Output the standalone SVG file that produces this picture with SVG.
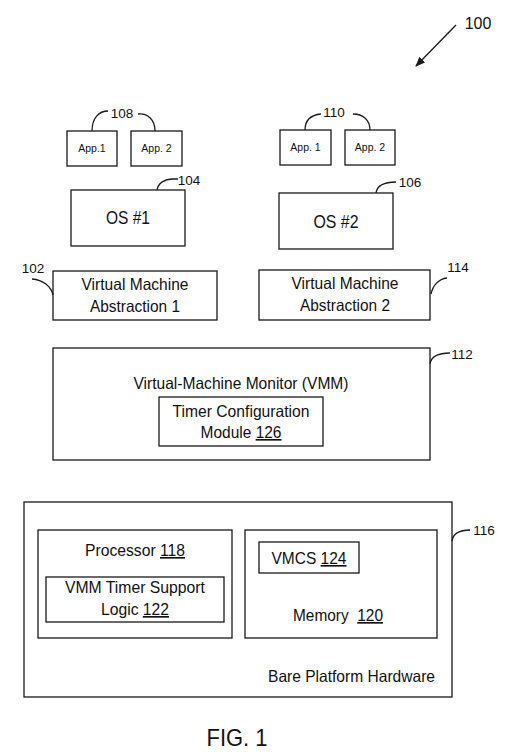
<svg xmlns="http://www.w3.org/2000/svg" width="506" height="755" viewBox="0 0 506 755">
<style>
.box{fill:none;stroke:#1a1a1a;stroke-width:1.3}
.lead{fill:none;stroke:#1a1a1a;stroke-width:1.3}
text{font-family:"Liberation Sans",Arial,sans-serif;fill:#111}
.t{font-size:16.5px;text-anchor:middle}
.app{font-size:10.5px;text-anchor:middle}
.os{font-size:18px;text-anchor:middle}
.ref{font-size:13.5px;text-anchor:middle}
.u{text-decoration:underline}
</style>
<defs>
<marker id="ah" viewBox="0 0 10 10" refX="9" refY="5" markerWidth="10" markerHeight="10" markerUnits="userSpaceOnUse" orient="auto">
<path d="M0,1 L10,5 L0,9 Z" fill="#1a1a1a"/>
</marker>
</defs>
<rect width="506" height="755" fill="#fff"/>

<g id="label-100"><text class="ref" x="478" y="29" style="font-size:16px">100</text></g>

<g id="app1-left"><rect class="box" x="67" y="131" width="50" height="35"/><text class="app" x="92" y="152">App.1</text></g>
<g id="app2-left"><rect class="box" x="131" y="131" width="51" height="35"/><text class="app" x="156.5" y="152">App. 2</text></g>
<g id="label-108"><text class="ref" x="122" y="118">108</text></g>

<g id="app1-right"><rect class="box" x="280" y="130" width="51" height="35"/><text class="app" x="305.5" y="151">App. 1</text></g>
<g id="app2-right"><rect class="box" x="345" y="130" width="50" height="35"/><text class="app" x="370" y="151">App. 2</text></g>
<g id="label-110"><text class="ref" x="334" y="117">110</text></g>

<g id="os1"><rect class="box" x="71" y="190" width="114" height="56"/><text class="os" x="128" y="223.5" textLength="44" lengthAdjust="spacingAndGlyphs">OS #1</text></g>
<g id="label-104"><text class="ref" x="189" y="185">104</text></g>
<g id="os2"><rect class="box" x="279" y="193" width="114" height="56"/><text class="os" x="336" y="228" textLength="45" lengthAdjust="spacingAndGlyphs">OS #2</text></g>
<g id="label-106"><text class="ref" x="410" y="187">106</text></g>

<g id="vma1"><rect class="box" x="53" y="271" width="164" height="49"/><text class="t" x="135" y="290" textLength="107" lengthAdjust="spacingAndGlyphs">Virtual Machine</text><text class="t" x="135" y="312" textLength="90" lengthAdjust="spacingAndGlyphs">Abstraction 1</text></g>
<g id="label-102"><text class="ref" x="33" y="273">102</text></g>
<g id="vma2"><rect class="box" x="259" y="270" width="171" height="50"/><text class="t" x="345" y="289" textLength="107" lengthAdjust="spacingAndGlyphs">Virtual Machine</text><text class="t" x="345" y="311" textLength="90" lengthAdjust="spacingAndGlyphs">Abstraction 2</text></g>
<g id="label-114"><text class="ref" x="458" y="272">114</text></g>

<g id="vmm"><rect class="box" x="53" y="348" width="377" height="112"/><text class="t" x="241" y="389" textLength="215" lengthAdjust="spacingAndGlyphs">Virtual-Machine Monitor (VMM)</text></g>
<g id="timer-config"><rect class="box" x="159" y="397" width="164" height="49"/><text class="t" x="241" y="416.5" textLength="137" lengthAdjust="spacingAndGlyphs">Timer Configuration</text><text class="t" x="241" y="438" textLength="81" lengthAdjust="spacingAndGlyphs">Module <tspan class="u">126</tspan></text></g>
<g id="label-112"><text class="ref" x="462" y="359">112</text></g>

<g id="hardware"><rect class="box" x="24" y="502" width="428" height="195"/><text class="t" x="351.5" y="682" textLength="167" lengthAdjust="spacingAndGlyphs">Bare Platform Hardware</text></g>
<g id="label-116"><text class="ref" x="484" y="535">116</text></g>
<g id="processor"><rect class="box" x="38" y="530" width="194" height="108"/><text class="t" x="135" y="556" textLength="100" lengthAdjust="spacingAndGlyphs">Processor <tspan class="u">118</tspan></text></g>
<g id="timer-support"><rect class="box" x="46" y="577" width="178" height="45"/><text class="t" x="135" y="593" textLength="140" lengthAdjust="spacingAndGlyphs">VMM Timer Support</text><text class="t" x="135" y="615" textLength="68" lengthAdjust="spacingAndGlyphs">Logic <tspan class="u">122</tspan></text></g>
<g id="memory"><rect class="box" x="245" y="530" width="192" height="108"/><text class="t" x="338" y="621" textLength="90" lengthAdjust="spacingAndGlyphs" xml:space="preserve">Memory  <tspan class="u">120</tspan></text></g>
<g id="vmcs"><rect class="box" x="259" y="542" width="100" height="31"/><text class="t" x="309" y="564" textLength="75" lengthAdjust="spacingAndGlyphs">VMCS <tspan class="u">124</tspan></text></g>

<g id="caption"><text x="237" y="746" textLength="61" lengthAdjust="spacingAndGlyphs" style="font-size:24px;text-anchor:middle">FIG. 1</text></g>

<g id="connectors">
<path class="lead" d="M456,25 L416,66" marker-end="url(#ah)"/>
<path class="lead" d="M92,131 C92,118 99,111 108,111"/>
<path class="lead" d="M138,114 C148,113 155,120 155,131"/>
<path class="lead" d="M305,130 C305,120 311,115 321,114"/>
<path class="lead" d="M353,114 C363,114 370,120 370,130"/>
<path class="lead" d="M157,190 C158,183 165,179 172,179 L178,179"/>
<path class="lead" d="M376,193 C377,186 384,182 396,182"/>
<path class="lead" d="M32,279 C43,280 51,286 53,295"/>
<path class="lead" d="M431,294 C433,285 439,279 447,278"/>
<path class="lead" d="M430,364 C431,357 437,353 450,353"/>
<path class="lead" d="M452,541 C453,534 459,530 470,530"/>
</g>
</svg>
